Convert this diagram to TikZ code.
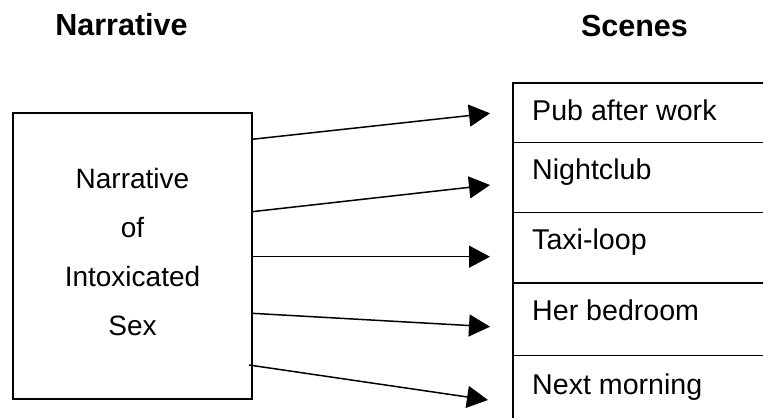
\documentclass[tikz,border=0pt]{standalone}
\usepackage{fontspec}
\setmainfont{Liberation Sans}
\usetikzlibrary{arrows.meta}
\begin{document}
\begin{tikzpicture}[x=1pt,y=-1pt,
  title/.style={font=\fontsize{30.5}{36}\selectfont\bfseries, inner sep=0pt, anchor=base},
  boxtxt/.style={font=\fontsize{28}{34}\selectfont, inner sep=0pt, anchor=base},
  scenetxt/.style={font=\fontsize{28.6}{34}\selectfont, inner sep=0pt, anchor=base west},
  conn/.style={line width=1.5pt, -{Triangle[length=21pt,width=22pt]}},
  frame/.style={line width=1.6pt},
  rule/.style={line width=1.4pt}]
\useasboundingbox (0,0) rectangle (763,418);
% titles
\node[title] (t1) at (121.5,35) {Narrative};
\node[title] (t2) at (634.5,36) {Scenes};
% narrative box
\node[draw, frame, minimum width=239pt, minimum height=286pt, inner sep=0pt] (nar) at (132.5,256) {};
\node[boxtxt] (l1) at (132.5,188) {Narrative};
\node[boxtxt] (l2) at (132.5,237) {of};
\node[boxtxt] (l3) at (132.5,286) {Intoxicated};
\node[boxtxt] (l4) at (132.5,335) {Sex};
% scenes column
\draw[rule] (513,83) -- (763,83);
\draw[rule] (513,142.5) -- (763,142.5);
\draw[rule] (513,212.7) -- (763,212.7);
\draw[rule] (513,283) -- (763,283);
\draw[rule] (513,355.5) -- (763,355.5);
\draw[rule] (513,82.3) -- (513,418);
\node[scenetxt] (s1) at (532,120) {Pub after work};
\node[scenetxt] (s2) at (532,179) {Nightclub};
\node[scenetxt] (s3) at (532,249) {Taxi-loop};
\node[scenetxt] (s4) at (532,320) {Her bedroom};
\node[scenetxt] (s5) at (532,394) {Next morning};
% connector endpoints
\coordinate (a1) at (252,139.3);
\coordinate (a2) at (252,211.7);
\coordinate (a3) at (252,256.7);
\coordinate (a4) at (252,313.3);
\coordinate (a5) at (249,365);
\coordinate (b1) at (490,113.3);
\coordinate (b2) at (490,185);
\coordinate (b3) at (490,256.7);
\coordinate (b4) at (490,326.7);
\coordinate (b5) at (488,400);
\draw[conn] (a1) -- (b1);
\draw[conn] (a2) -- (b2);
\draw[conn] (a3) -- (b3);
\draw[conn] (a4) -- (b4);
\draw[conn] (a5) -- (b5);
\end{tikzpicture}
\end{document}
